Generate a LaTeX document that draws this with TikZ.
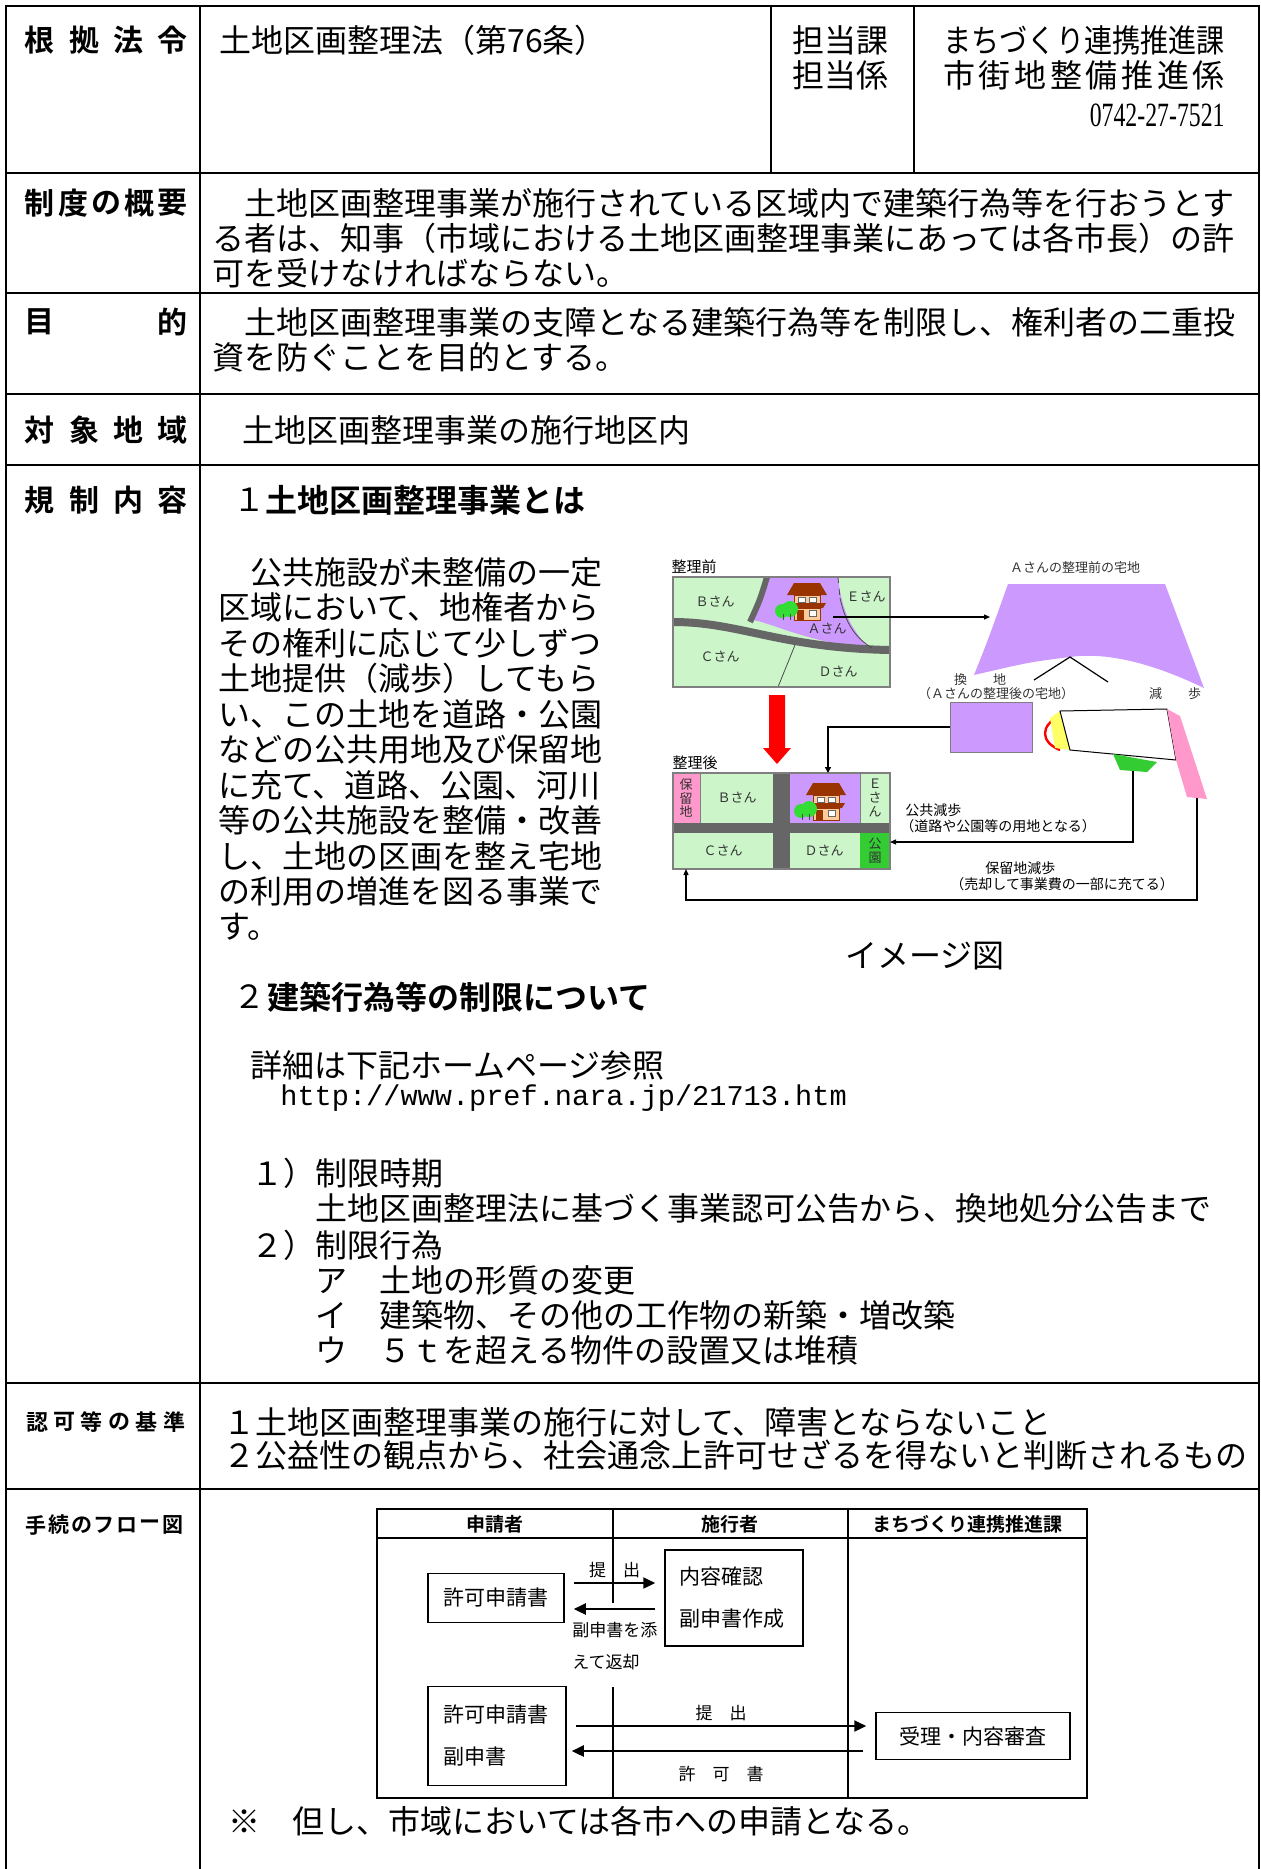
\documentclass[tikz,border=0pt]{standalone}
\usepackage{fontspec}
\usepackage{graphicx}
\setmainfont{Noto Sans CJK JP}[BoldFont={Noto Sans CJK JP Bold}]
\newfontfamily\urlfont{Liberation Mono}
\newfontfamily\telfont{Liberation Serif}
\usetikzlibrary{arrows.meta}
\definecolor{land}{HTML}{CCF5C9}
\definecolor{lilac}{HTML}{CC99FF}
\definecolor{road}{HTML}{666666}
\definecolor{rsv}{HTML}{FF99CC}
\definecolor{park}{HTML}{33CC33}
\definecolor{roof}{HTML}{993300}
\definecolor{wall}{HTML}{FFCC99}
\definecolor{leaf}{HTML}{33DD33}
\definecolor{cut}{HTML}{FFFF66}
\definecolor{edge}{HTML}{7F7F7F}
\newcommand\bodyfont{\fontsize{16pt}{17.75pt}\selectfont}
\newcommand\labfont{\fontsize{15pt}{15pt}\selectfont\bfseries}
\newcommand\slabfont{\fontsize{11pt}{11pt}\selectfont\bfseries}
\newcommand\tlabfont{\fontsize{10.5pt}{10.5pt}\selectfont\bfseries}
\newcommand\flowfont{\fontsize{10.5pt}{21pt}\selectfont}
\newcommand\fheadfont{\fontsize{9.5pt}{9.5pt}\selectfont\bfseries}
\newcommand\flabfont{\fontsize{8.5pt}{16pt}\selectfont}
\newcommand\diafont{\fontsize{7.5pt}{8pt}\selectfont}
\newcommand\smfont{\fontsize{6.5pt}{6.8pt}\selectfont}
\newcommand\notefont{\fontsize{7pt}{7.5pt}\selectfont}
\tikzset{house/.pic={
   \fill[roof] (-20,-5) -- (-13,-17) -- (13,-17) -- (20,-5) -- cycle;
   \filldraw[fill=wall, draw=roof, line width=0.3pt] (-13,-5) rectangle (13,4);
   \filldraw[fill=white, draw=black!60, line width=0.3pt] (-9,-3) rectangle (-2,2) (2,-3) rectangle (9,2);
   \fill[roof] (-19,3) -- (19,3) -- (16,8) -- (-16,8) -- cycle;
   \filldraw[fill=wall, draw=roof, line width=0.3pt] (-13,8) rectangle (13,20);
   \fill[roof] (-10,10) rectangle (-3,20);
   \filldraw[fill=white, draw=black!60, line width=0.3pt] (2,10) rectangle (9,16);
   \fill[leaf] (-25,11) circle[radius=7] (-17,9) circle[radius=8];
   \draw[black!70, line width=0.4pt] (-24,14) -- (-24,20) (-17,14) -- (-17,20);
}}
\begin{document}
\begin{tikzpicture}[x=0.5pt, y=-0.5pt,
   tbl/.style={line width=1.4pt},
   txt/.style={anchor=west, inner sep=0pt, font=\bodyfont},
   lab/.style={inner sep=0pt, font=\labfont},
   slab/.style={inner sep=0pt, font=\slabfont},
   tlab/.style={inner sep=0pt, font=\tlabfont},
   fframe/.style={line width=1.1pt},
   fbox/.style={draw, line width=0.75pt, inner sep=0pt, font=\flowfont},
   fhead/.style={inner sep=0pt, font=\fheadfont},
   flab/.style={inner sep=0pt, font=\flabfont},
   farr/.style={line width=1.1pt, -{Triangle[length=6pt,width=5.5pt]}, shorten <=4.5pt, shorten >=4.5pt},
   dlab/.style={inner sep=0pt, font=\diafont},
   slbl/.style={inner sep=0pt, font=\smfont, text=black!80},
   nlbl/.style={inner sep=0pt, font=\notefont, anchor=west},
   tarr/.style={line width=0.6pt, -{Triangle[length=3pt,width=2.5pt]}},
   darr/.style={line width=1pt, -{Triangle[length=3pt,width=3pt]}}]
   \def\lx{200};   % label column
   \def\rx{1259};  % right border
   \useasboundingbox (0,0) rectangle (1261,1869);
   \fill[white] (0,0) rectangle (1261,1869);
   % table frame
   \draw[tbl] (6,1869) -- (6,6) -- (\rx,6) -- (\rx,1869);
   \draw[tbl] (\lx,6) -- (\lx,1869);
   \foreach \y in {173,293,394,465,1383,1489} \draw[tbl] (6,\y) -- (\rx,\y);
   \draw[tbl] (771,6) -- (771,173);
   \draw[tbl] (914,6) -- (914,173);
   % row labels
   \foreach \c [count=\i from 0] in {根,拠,法,令} \node[lab] (la\i) at (40+44*\i,40) {\c};
   \foreach \c [count=\i from 0] in {制,度,の,概,要} \node[lab] (lb\i) at (40+33*\i,203) {\c};
   \foreach \c [count=\i from 0] in {目,的} \node[lab] (lc\i) at (40+132*\i,322) {\c};
   \foreach \c [count=\i from 0] in {対,象,地,域} \node[lab] (ld\i) at (40+44*\i,430) {\c};
   \foreach \c [count=\i from 0] in {規,制,内,容} \node[lab] (le\i) at (40+44*\i,500) {\c};
   \foreach \c [count=\i from 0] in {認,可,等,の,基,準} \node[slab] (lf\i) at (37+27.4*\i,1422) {\c};
   \foreach \c [count=\i from 0] in {手,続,の,フ,ロ,ー,図} \node[tlab] (lg\i) at (36+22.8*\i,1525) {\c};
   % row 1
   \node[txt] (law) at (219,40) {土地区画整理法（第76条）};
   \node[txt] (sec1) at (792,40) {担当課};
   \node[txt] (sec2) at (792,75) {担当係};
   \node[txt] (dept) at (943,40) {\scalebox{0.88}[1]{まちづくり連携推進課}};
   \foreach \c [count=\i from 0] in {市,街,地,整,備,推,進,係} \node[txt, anchor=center] (un\i) at (959+35.7*\i,75) {\c};
   \node[anchor=east, inner sep=0pt, font=\telfont\fontsize{17pt}{17pt}\selectfont] (tel) at (1225,115) {\scalebox{0.7}[1]{0742-27-7521}};
   % rows 2 - 4
   \foreach \t [count=\i from 0] in {{　土地区画整理事業が施行されている区域内で建築行為等を行おうとす},{る者は、知事（市域における土地区画整理事業にあっては各市長）の許},{可を受けなければならない。}}
      \node[txt] (ov\i) at (212,203+35*\i) {\t};
   \foreach \t [count=\i from 0] in {{　土地区画整理事業の支障となる建築行為等を制限し、権利者の二重投},{資を防ぐことを目的とする。}}
      \node[txt] (pu\i) at (212,322+35*\i) {\t};
   \node[txt] (area) at (210,430) {　土地区画整理事業の施行地区内};
   % row 5
   \node[txt] (h1n) at (233,500) {１};
   \node[txt, font=\bodyfont\bfseries] (h1) at (265,500) {土地区画整理事業とは};
   \foreach \t [count=\i from 0] in {{　公共施設が未整備の一定},{区域において、地権者から},{その権利に応じて少しずつ},{土地提供（減歩）してもら},{い、この土地を道路・公園},{などの公共用地及び保留地},{に充て、道路、公園、河川},{等の公共施設を整備・改善},{し、土地の区画を整え宅地},{の利用の増進を図る事業で},{す。}}
      \node[txt] (pa\i) at (218,572+35.5*\i) {\t};
   \node[txt] (cap) at (845,956) {イメージ図};
   \node[txt] (h2n) at (233,997) {２};
   \node[txt, font=\bodyfont\bfseries] (h2) at (267,997) {建築行為等の制限について};
   \node[txt] (ref) at (250,1065) {詳細は下記ホームページ参照};
   \node[txt, font=\urlfont\fontsize{14.3pt}{15pt}\selectfont] (url) at (280,1098) {http://www.pref.nara.jp/21713.htm};
   \node[txt] (r1) at (251,1173) {１）制限時期};
   \node[txt] (r1a) at (315,1208) {土地区画整理法に基づく事業認可公告から、換地処分公告まで};
   \node[txt] (r2) at (251,1245) {２）制限行為};
   \node[txt] (r2a) at (315,1280) {ア　土地の形質の変更};
   \node[txt] (r2b) at (315,1315) {イ　建築物、その他の工作物の新築・増改築};
   \node[txt] (r2c) at (315,1350) {ウ　５ｔを超える物件の設置又は堆積};
   % row 6
   \node[txt] (cr1) at (223,1422) {１土地区画整理事業の施行に対して、障害とならないこと};
   \node[txt] (cr2) at (223,1455) {２公益性の観点から、社会通念上許可せざるを得ないと判断されるもの};
   % image: before
   \node[dlab] (bef) at (694,567) {整理前};
   \fill[land] (673,577) rectangle (890,687);
   \fill[lilac] (767,577) -- (838,577) .. controls (842,615) and (855,635) .. (872,650) .. controls (800,640) and (770,622) .. (752,620) .. controls (760,600) .. (767,577) -- cycle;
   \draw[road, line width=4pt] (673,622) .. controls (740,622) and (780,648) .. (890,650);
   \draw[road, line width=3pt] (767,577) .. controls (760,600) .. (750,622);
   \draw[black!70, line width=0.4pt, dashed] (838,577) -- (840,598);
   \draw[black!70, line width=0.4pt] (840,598) .. controls (846,625) and (856,638) .. (872,648);
   \draw[black!70, line width=0.4pt] (795,645) -- (778,687);
   \draw[edge, line width=0.6pt] (673,577) rectangle (890,687);
   \node[slbl] (pB) at (715,602) {Ｂさん};
   \node[slbl] (pE) at (866,597) {Ｅさん};
   \node[slbl] (pA) at (827,629) {Ａさん};
   \node[slbl] (pC) at (720,657) {Ｃさん};
   \node[slbl] (pD) at (838,672) {Ｄさん};
   \pic at (807,600) {house};
   % A before / after
   \node[slbl] (preL) at (1075,568) {Ａさんの整理前の宅地};
   \fill[lilac] (1008,584) -- (1165,584) -- (1204,688) .. controls (1150,662) and (1105,652) .. (1070,657) .. controls (1030,662) .. (974,675) .. controls (988,640) .. (1008,584) -- cycle;
   \coordinate (hA) at (833,617);
   \coordinate (preA) at (990,617);
   \draw[tarr] (hA) -- (preA);
   \coordinate (apx) at (1070,657);
   \coordinate (kL) at (1034,680);
   \coordinate (kR) at (1108,682);
   \draw[line width=0.6pt] (kL) -- (apx) -- (kR);
   \node[slbl] (kan) at (980,680) {換　　地};
   \node[slbl] (gen) at (1175,694) {減　　歩};
   \node[slbl] (kanL) at (996,694) {（Ａさんの整理後の宅地）};
   \node[draw=edge, fill=lilac, minimum width=41pt, minimum height=25pt, inner sep=0pt] (aftA) at (991,727) {};
   \draw[red, line width=1.2pt] (1060,716) .. controls (1040,725) and (1040,742) .. (1060,750);
   \fill[cut] (1050,718) -- (1060,711) -- (1070,750) -- (1055,748) -- cycle;
   \filldraw[fill=white, draw=black, line width=0.5pt] (1060,711) -- (1167,709) -- (1176,760) -- (1070,750) -- cycle;
   \fill[park] (1113,754) -- (1157,762) -- (1147,772) -- (1120,770) -- cycle;
   \fill[rsv] (1167,709) -- (1180,716) -- (1207,799) -- (1187,797) -- (1176,760) -- cycle;
   % red arrow
   \fill[red] (769,695) -- (785,695) -- (785,748) -- (791,748) -- (777,764) -- (763,748) -- (769,748) -- cycle;
   % image: after
   \node[dlab] (aft) at (695,763) {整理後};
   \fill[land] (673,773) rectangle (890,869);
   \fill[rsv] (673,773) rectangle (700,823);
   \fill[lilac] (790,773) rectangle (860,823);
   \fill[park] (860,833) rectangle (890,869);
   \fill[road] (773,773) rectangle (790,869);
   \fill[road] (673,823) rectangle (890,833);
   \draw[edge, line width=0.6pt] (673,773) rectangle (890,869);
   \draw[edge, line width=0.4pt] (700,773) -- (700,823) (860,773) -- (860,823);
   \node[slbl, align=center] (qR) at (686,798) {保\\留\\地};
   \node[slbl] (qB) at (737,798) {Ｂさん};
   \node[slbl, align=center] (qE) at (875,798) {Ｅ\\さ\\ん};
   \node[slbl] (qC) at (723,851) {Ｃさん};
   \node[slbl] (qD) at (824,851) {Ｄさん};
   \node[slbl, align=center] (qP) at (875,851) {公\\園};
   \pic at (826,800) {house};
   \coordinate (hB) at (828,773);
   \draw[darr] (aftA.west) -| (hB);
   % public / reserved land
   \node[nlbl] (pub1) at (905,810) {公共減歩};
   \node[nlbl] (pub2) at (900,826) {（道路や公園等の用地となる）};
   \coordinate (gP) at (1133,771);
   \coordinate (bR) at (890,842);
   \draw[tarr] (gP) |- (bR);
   \node[nlbl] (res1) at (985,868) {保留地減歩};
   \node[nlbl] (res2) at (950,884) {（売却して事業費の一部に充てる）};
   \coordinate (pP) at (1197,798);
   \coordinate (rv) at (686,900);
   \coordinate (bB) at (686,869);
   \draw[tarr] (pP) |- (rv) -- (bB);
   % flow chart
   \draw[fframe] (377,1509) rectangle (1087,1798);
   \draw[fframe] (377,1538) -- (1087,1538);
   \draw[fframe] (848,1509) -- (848,1798);
   \draw[fframe] (613,1509) -- (613,1603);
   \draw[fframe] (613,1687) -- (613,1798);
   \node[fhead] (c1) at (495,1524) {申請者};
   \node[fhead] (c2) at (730,1524) {施行者};
   \node[fhead] (c3) at (967,1524) {まちづくり連携推進課};
   \node[fbox, minimum width=68pt, minimum height=24.5pt] (req) at (496,1598) {許可申請書};
   \node[fbox, text width=55pt, inner xsep=7pt, minimum height=48pt, align=left] (chk) at (734,1598) {内容確認\\副申書作成};
   \node[fbox, text width=54pt, inner xsep=7.5pt, minimum height=49.5pt, align=left] (req2) at (497,1736) {許可申請書\\副申書};
   \node[fbox, minimum width=97pt, minimum height=23.5pt] (rec) at (973,1736) {受理・内容審査};
   \draw[farr] ([yshift=7.5pt]req.east) -- node[flab, above=2pt] (sub1) {提　出} ([yshift=7.5pt]chk.west);
   \draw[farr] ([yshift=-5.5pt]chk.west) -- ([yshift=-5.5pt]req.east);
   \node[flab, anchor=north west, align=left] (ret) at (572,1622) {副申書を添\\えて返却};
   \draw[farr] ([yshift=5pt]req2.east) -- node[flab, above=2pt] (sub2) {提　出} ([yshift=5pt]rec.west);
   \draw[farr, shorten <=6pt, shorten >=2.5pt] ([yshift=-7.5pt]rec.west) -- node[flab, below=7pt] (perm) {許　可　書} ([yshift=-7.5pt]req2.east);
   \node[txt] (note) at (228,1821) {※　但し、市域においては各市への申請となる。};
\end{tikzpicture}
\end{document}
